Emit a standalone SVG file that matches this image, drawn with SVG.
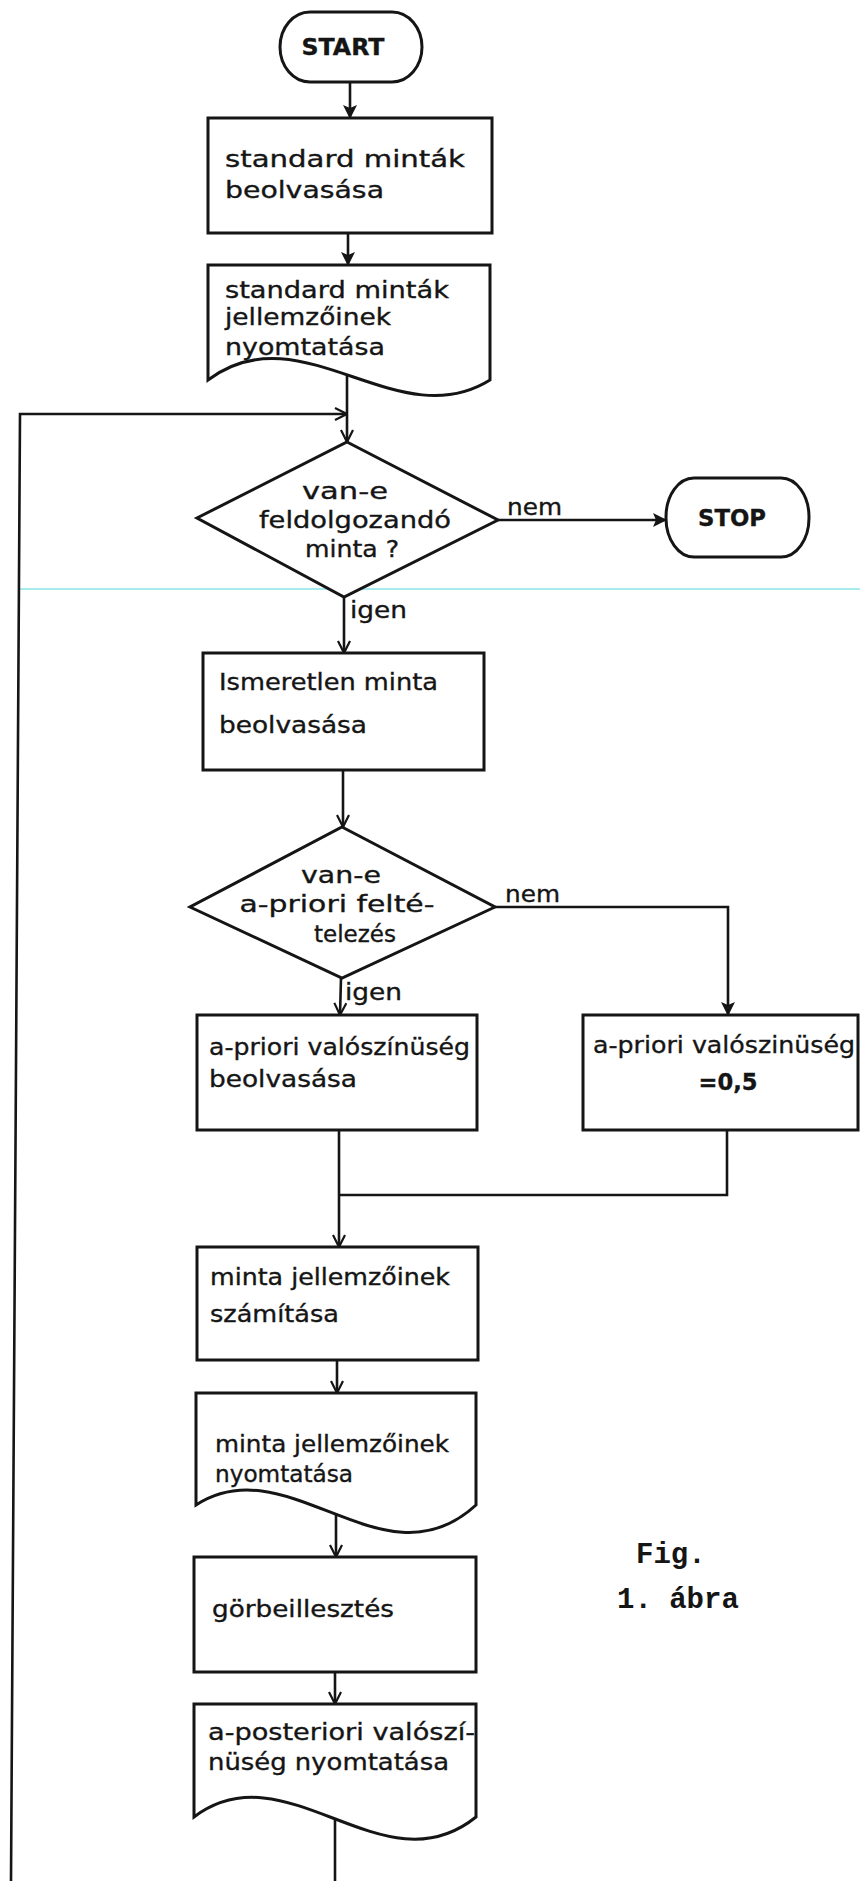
<svg xmlns="http://www.w3.org/2000/svg" width="860" height="1881" viewBox="0 0 860 1881">
<style>
.t{font-family:"DejaVu Sans","Liberation Sans",sans-serif;font-size:23px;fill:#151515;stroke:#151515;stroke-width:0.35}
.c{text-anchor:middle}
.b{font-weight:bold}
.mono{font-family:"Liberation Mono","DejaVu Sans Mono",monospace;font-size:29px;font-weight:bold;fill:#151515}
.shape{fill:#fff;stroke:#151515;stroke-width:3;stroke-linejoin:miter}
.ln{fill:none;stroke:#151515;stroke-width:2.6}
</style>
<defs>
<marker id="vee" viewBox="0 0 14 14" refX="13" refY="7" markerWidth="14" markerHeight="14" orient="auto" markerUnits="userSpaceOnUse">
<path d="M1,1 L13,7 L1,13" fill="none" stroke="#151515" stroke-width="2.2"/>
</marker>
<marker id="tri" viewBox="0 0 14 14" refX="13" refY="7" markerWidth="14" markerHeight="14" orient="auto" markerUnits="userSpaceOnUse">
<path d="M0,0 L14,7 L0,14 L3,7 Z" fill="#151515"/>
</marker>
</defs>
<rect width="860" height="1881" fill="#fff"/>
<line x1="20" y1="589" x2="860" y2="589" stroke="#a6ecef" stroke-width="2"/>

<g id="connectors">
<line class="ln" x1="350" y1="82" x2="350" y2="118" marker-end="url(#tri)"/>
<line class="ln" x1="348" y1="233" x2="348" y2="265" marker-end="url(#tri)"/>
<line class="ln" x1="347" y1="376" x2="347" y2="442" marker-end="url(#vee)"/>
<polyline class="ln" points="11,1881 20,414 347,414" marker-end="url(#vee)"/>
<line class="ln" x1="498" y1="520" x2="666" y2="520" marker-end="url(#tri)"/>
<line class="ln" x1="344" y1="597" x2="344" y2="653" marker-end="url(#vee)"/>
<line class="ln" x1="343" y1="770" x2="343" y2="827" marker-end="url(#vee)"/>
<polyline class="ln" points="495,907 728,907 728,1015" marker-end="url(#tri)"/>
<line class="ln" x1="341" y1="978" x2="340" y2="1015" marker-end="url(#vee)"/>
<line class="ln" x1="339" y1="1130" x2="339" y2="1247" marker-end="url(#vee)"/>
<polyline class="ln" points="727,1130 727,1195 339,1195"/>
<line class="ln" x1="337" y1="1360" x2="337" y2="1393" marker-end="url(#vee)"/>
<line class="ln" x1="336" y1="1514" x2="336" y2="1557" marker-end="url(#vee)"/>
<line class="ln" x1="335" y1="1672" x2="335" y2="1704" marker-end="url(#vee)"/>
<line class="ln" x1="335" y1="1819" x2="335" y2="1881"/>
</g>

<g id="label-nem1"><text class="t" x="507" y="515" textLength="55" lengthAdjust="spacingAndGlyphs">nem</text></g>
<g id="label-igen1"><text class="t" x="350" y="618" textLength="57" lengthAdjust="spacingAndGlyphs">igen</text></g>
<g id="label-nem2"><text class="t" x="505" y="902" textLength="55" lengthAdjust="spacingAndGlyphs">nem</text></g>
<g id="label-igen2"><text class="t" x="345" y="1000" textLength="57" lengthAdjust="spacingAndGlyphs">igen</text></g>

<g id="start">
<rect class="shape" x="280" y="12" width="142" height="70" rx="30" ry="35"/>
<text class="t c b" x="343" y="55" font-size="24" textLength="83" lengthAdjust="spacingAndGlyphs">START</text>
</g>

<g id="box-standard-read">
<rect class="shape" x="208" y="118" width="284" height="115"/>
<text class="t" x="225" y="167" textLength="240" lengthAdjust="spacingAndGlyphs">standard minták</text>
<text class="t" x="225" y="198" textLength="159" lengthAdjust="spacingAndGlyphs">beolvasása</text>
</g>

<g id="doc-standard-print">
<path class="shape" d="M208,380 V265 H490 V380 C397,438 301,310 208,380 Z"/>
<text class="t" x="225" y="298" textLength="224" lengthAdjust="spacingAndGlyphs">standard minták</text>
<text class="t" x="225" y="325" textLength="166" lengthAdjust="spacingAndGlyphs">jellemzőinek</text>
<text class="t" x="225" y="355" textLength="160" lengthAdjust="spacingAndGlyphs">nyomtatása</text>
</g>

<g id="dec-van-minta">
<polygon class="shape" points="347,442 498,520 344,597 197,518"/>
<text class="t c" x="345" y="499" textLength="86" lengthAdjust="spacingAndGlyphs">van-e</text>
<text class="t c" x="355" y="528" textLength="192" lengthAdjust="spacingAndGlyphs">feldolgozandó</text>
<text class="t c" x="352" y="557" textLength="94" lengthAdjust="spacingAndGlyphs">minta ?</text>
</g>

<g id="stop">
<rect class="shape" x="666" y="478" width="143" height="79" rx="28" ry="39"/>
<text class="t c b" x="732" y="526" font-size="24" textLength="68" lengthAdjust="spacingAndGlyphs">STOP</text>
</g>

<g id="box-ismeretlen">
<rect class="shape" x="203" y="653" width="281" height="117"/>
<text class="t" x="219" y="690" textLength="219" lengthAdjust="spacingAndGlyphs">Ismeretlen minta</text>
<text class="t" x="219" y="733" textLength="148" lengthAdjust="spacingAndGlyphs">beolvasása</text>
</g>

<g id="dec-apriori">
<polygon class="shape" points="342,827 495,907 342,978 190,907"/>
<text class="t c" x="341" y="883" textLength="80" lengthAdjust="spacingAndGlyphs">van-e</text>
<text class="t c" x="337" y="912" textLength="195" lengthAdjust="spacingAndGlyphs">a-priori felté-</text>
<text class="t c" x="355" y="942" textLength="82" lengthAdjust="spacingAndGlyphs">telezés</text>
</g>

<g id="box-apriori-read">
<rect class="shape" x="197" y="1015" width="280" height="115"/>
<text class="t" x="209" y="1055" textLength="261" lengthAdjust="spacingAndGlyphs">a-priori valószínüség</text>
<text class="t" x="209" y="1087" textLength="148" lengthAdjust="spacingAndGlyphs">beolvasása</text>
</g>

<g id="box-apriori-default">
<rect class="shape" x="583" y="1015" width="275" height="115"/>
<text class="t" x="593" y="1053" textLength="262" lengthAdjust="spacingAndGlyphs">a-priori valószinüség</text>
<text class="t c b" x="728" y="1090" font-size="24" textLength="59" lengthAdjust="spacingAndGlyphs">=0,5</text>
</g>

<g id="box-szamitas">
<rect class="shape" x="197" y="1247" width="281" height="113"/>
<text class="t" x="210" y="1285" textLength="240" lengthAdjust="spacingAndGlyphs">minta jellemzőinek</text>
<text class="t" x="210" y="1322" textLength="129" lengthAdjust="spacingAndGlyphs">számítása</text>
</g>

<g id="doc-minta-print">
<path class="shape" d="M196,1505 V1393 H476 V1505 C384,1590 288,1445 196,1505 Z"/>
<text class="t" x="215" y="1452" textLength="234" lengthAdjust="spacingAndGlyphs">minta jellemzőinek</text>
<text class="t" x="215" y="1482" textLength="138" lengthAdjust="spacingAndGlyphs">nyomtatása</text>
</g>

<g id="box-gorbe">
<rect class="shape" x="194" y="1557" width="282" height="115"/>
<text class="t" x="212" y="1617" textLength="182" lengthAdjust="spacingAndGlyphs">görbeillesztés</text>
</g>

<g id="doc-aposteriori">
<path class="shape" d="M194,1817 V1704 H476 V1817 C383,1892 287,1747 194,1817 Z"/>
<text class="t" x="208" y="1740" textLength="267" lengthAdjust="spacingAndGlyphs">a-posteriori valószí-</text>
<text class="t" x="208" y="1770" textLength="241" lengthAdjust="spacingAndGlyphs">nüség nyomtatása</text>
</g>

<g id="caption">
<text class="mono" x="636" y="1563">Fig.</text>
<text class="mono" x="617" y="1608">1. ábra</text>
</g>
</svg>
